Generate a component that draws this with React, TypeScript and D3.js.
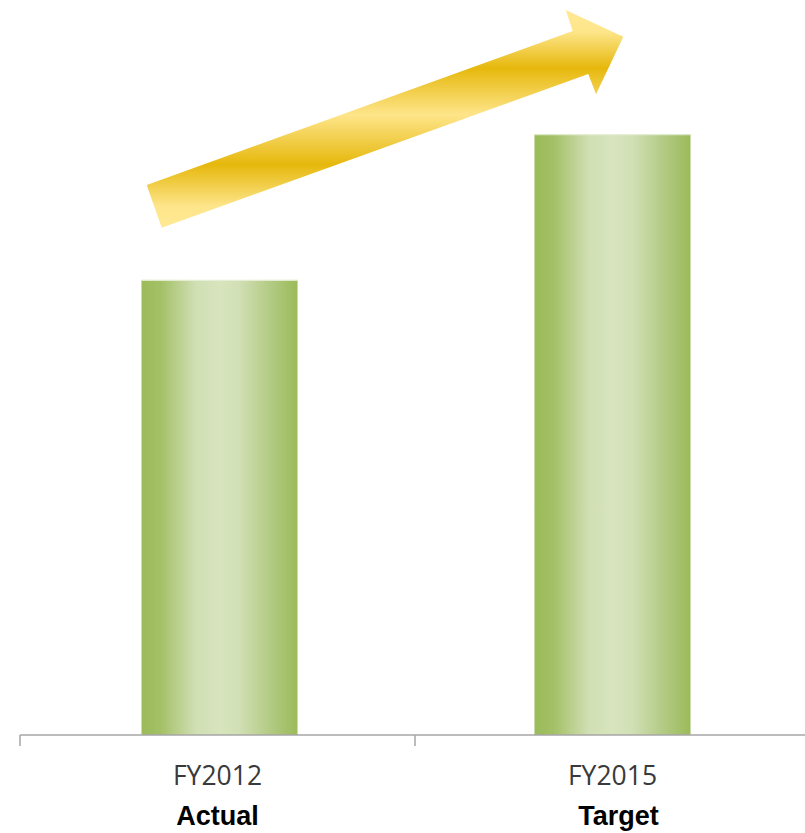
import React from "react";
import * as d3 from "d3";

const categories = ["FY2012", "FY2015"];
const subLabels = ["Actual", "Target"];
const values = [100, 132];

const W = 805;
const H = 833;
const baseline = 735;

export default function App() {
  const x = d3
    .scaleBand<string>()
    .domain(categories)
    .range([23, 809])
    .paddingInner(0.603)
    .paddingOuter(0.3015);
  const axisX = d3.scaleBand<string>().domain(categories).range([20, 810]);
  const y = d3.scaleLinear().domain([0, 161.5]).range([baseline, 0]);

  const ticks = [axisX(categories[0]) as number, ...categories.map((c) => (axisX(c) as number) + axisX.bandwidth())];
  const arrowPts: [number, number][] = [
    [146.7, 185],
    [572.7, 31],
    [565.7, 10],
    [623.3, 36.7],
    [596, 94.3],
    [588.3, 74],
    [161.7, 227.7],
  ];
  const arrowPath = d3.line()(arrowPts) + "Z";

  return (
    <svg width={W} height={H} style={{ display: "block", position: "absolute", left: 0, top: 0 }}>
      <defs>
        <linearGradient id="barGrad" x1="0" y1="0" x2="1" y2="0">
          <stop offset="0" stopColor="#9BBB59" />
          <stop offset="0.12" stopColor="#A3C066" />
          <stop offset="0.35" stopColor="#D1DFB4" />
          <stop offset="0.5" stopColor="#D7E4BD" />
          <stop offset="0.62" stopColor="#D2E0B6" />
          <stop offset="0.85" stopColor="#AFC87E" />
          <stop offset="1" stopColor="#9BBB59" />
        </linearGradient>
        <linearGradient id="arrowGrad" gradientUnits="userSpaceOnUse" x1="0" y1="10" x2="0" y2="228">
          <stop offset="0" stopColor="#FFE993" />
          <stop offset="0.1" stopColor="#FDE58A" />
          <stop offset="0.266" stopColor="#E6B80C" />
          <stop offset="0.48" stopColor="#FEE58A" />
          <stop offset="0.71" stopColor="#E6B80C" />
          <stop offset="0.9" stopColor="#FDE58A" />
          <stop offset="1" stopColor="#FFE993" />
        </linearGradient>
      </defs>
      <rect width={W} height={H} fill="#ffffff" />
      {categories.map((c, i) => (
        <g key={c}>
          <rect
            x={x(c)}
            y={y(values[i])}
            width={x.bandwidth()}
            height={baseline - y(values[i])}
            fill="url(#barGrad)"
          />
          <line
            x1={x(c)}
            x2={(x(c) as number) + x.bandwidth()}
            y1={y(values[i]) + 0.5}
            y2={y(values[i]) + 0.5}
            stroke="#E8F0D8"
            strokeWidth={1}
          />
        </g>
      ))}
      <line x1={20} x2={W + 10} y1={baseline} y2={baseline} stroke="#A6A6A6" strokeWidth={1.5} />
      {ticks.map((t, i) => (
        <line key={i} x1={t} x2={t} y1={baseline} y2={baseline + 11} stroke="#A6A6A6" strokeWidth={1.5} />
      ))}
      {categories.map((c, i) => {
        const cx = (axisX(c) as number) + axisX.bandwidth() / 2;
        return (
          <g key={"l" + c}>
            <text x={cx} y={785} textAnchor="middle" fontFamily="'Open Sans', sans-serif" fontSize={26.5} fill="#3A3A3A">
              {c}
            </text>
            <text
              x={cx + (i === 0 ? 0 : 6)}
              y={825}
              textAnchor="middle"
              fontFamily="'Liberation Sans', Arial, sans-serif"
              fontWeight="bold"
              fontSize={27}
              fill="#000000"
            >
              {subLabels[i]}
            </text>
          </g>
        );
      })}
      <path d={arrowPath} fill="url(#arrowGrad)" />
    </svg>
  );
}
